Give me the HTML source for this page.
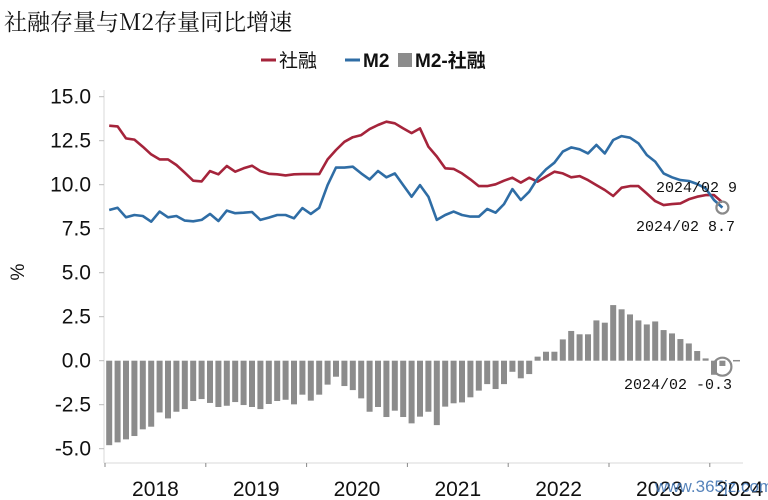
<!DOCTYPE html>
<html><head><meta charset="utf-8">
<style>
html,body{margin:0;padding:0;background:#fff;}
svg{display:block;}
text{font-family:"Liberation Sans","Noto Sans CJK SC",sans-serif;}
.mono{font-family:"Liberation Mono","Noto Sans CJK SC",monospace;}
</style></head>
<body>
<svg id="chart" width="768" height="500" viewBox="0 0 768 500">
  <text x="4" y="30" font-size="23" fill="#111" style="font-family:'Noto Serif CJK SC','Liberation Serif',serif">社融存量与M2存量同比增速</text>
  <g>
    <g>
      <line x1="261" y1="60" x2="276" y2="60" stroke="#a5243b" stroke-width="3"/>
      <text x="279" y="67" font-size="19" fill="#111">社融</text>
    </g>
    <g>
      <line x1="345" y1="60" x2="360" y2="60" stroke="#2f6da5" stroke-width="3"/>
      <text x="363" y="67" font-size="19" fill="#111" font-weight="bold">M2</text>
    </g>
    <g>
      <rect x="398" y="53" width="14" height="14" fill="#8c8c8c"/>
      <text x="415" y="67" font-size="19" fill="#111" font-weight="bold">M2-社融</text>
    </g>
  </g>
  <text transform="translate(24,272) rotate(-90)" font-size="19" fill="#111" text-anchor="middle">%</text>
  <g id="yaxis"></g>
  <g id="xaxis"></g>
  <g id="bars"></g>
  <g id="lines"></g>
  <g id="annot"></g>
  <text x="655" y="492" font-size="17" fill="#3a6fb0" opacity="0.85">www.365jz.com</text>
</svg>
<script>
const yTicks = [-5, -2.5, 0, 2.5, 5, 7.5, 10, 12.5, 15];
const yearLabels = ["2018","2019","2020","2021","2022","2023","2024"];
const tsf = [13.35,13.31,12.63,12.56,12.16,11.72,11.44,11.44,11.12,10.68,10.23,10.19,
 10.77,10.59,11.06,10.74,10.93,11.08,10.77,10.62,10.59,10.53,10.59,10.6,
 10.6,10.6,11.44,11.97,12.44,12.7,12.82,13.16,13.39,13.58,13.49,13.2,
 12.93,13.2,12.16,11.6,10.93,10.9,10.64,10.3,9.92,9.92,10.02,10.23,
 10.4,10.12,10.4,10.17,10.46,10.74,10.64,10.42,10.49,10.26,9.98,9.7,
 9.36,9.83,9.92,9.92,9.5,9.07,8.84,8.9,8.94,9.17,9.32,9.41,
 9.41,9.0];
const m2 = [8.56,8.69,8.15,8.28,8.22,7.9,8.47,8.15,8.22,7.96,7.92,8.0,
 8.34,7.94,8.53,8.38,8.41,8.45,8.0,8.13,8.28,8.28,8.09,8.67,
 8.34,8.69,9.98,10.98,10.97,11.02,10.64,10.3,10.78,10.42,10.64,9.98,
 9.32,9.98,9.32,8.0,8.28,8.47,8.28,8.19,8.19,8.62,8.41,8.9,
 9.75,9.13,9.6,10.36,10.87,11.25,11.88,12.12,12.01,11.78,12.26,11.78,
 12.54,12.76,12.67,12.35,11.69,11.31,10.64,10.42,10.26,10.21,10.04,9.79,
 9.13,8.7];
const spread = [-4.8,-4.64,-4.47,-4.28,-3.9,-3.75,-2.94,-3.28,-2.9,-2.75,-2.29,-2.18,
 -2.4,-2.63,-2.56,-2.35,-2.52,-2.63,-2.75,-2.46,-2.29,-2.22,-2.48,-1.93,
 -2.27,-1.93,-1.36,-0.91,-1.44,-1.67,-2.14,-2.9,-2.63,-3.2,-2.84,-3.2,
 -3.56,-3.18,-2.9,-3.66,-2.61,-2.42,-2.37,-2.08,-1.7,-1.33,-1.61,-1.33,
 -0.63,-1.0,-0.76,0.23,0.51,0.51,1.21,1.69,1.5,1.5,2.29,2.16,
 3.16,2.92,2.63,2.29,2.06,2.23,1.74,1.55,1.23,0.98,0.55,0.13,
 -0.8,-0.3];
const annotLabels = ["2024/02 9","2024/02 8.7","2024/02 -0.3"];

const NS = "http://www.w3.org/2000/svg";
const X0 = 105, MW = 8.4, Y0 = 360.7, PU = 17.6;
function xm(i){ return X0 + (i + 0.5) * MW; }
function yv(v){ return Y0 - v * PU; }
function mk(tag, attrs, parent){
  const e = document.createElementNS(NS, tag);
  for (const k in attrs) e.setAttribute(k, attrs[k]);
  parent.appendChild(e); return e;
}
const yax = document.getElementById('yaxis');
mk('line',{x1:104,y1:90,x2:104,y2:463,stroke:'#d9d9d9','stroke-width':1},yax);
yTicks.forEach(t=>{
  const l = mk('line',{x1:99,y1:yv(t),x2:104,y2:yv(t),stroke:'#bbb','stroke-width':1},yax);
  
  
  const tx = mk('text',{x:91,y:yv(t)+7,'font-size':21,'text-anchor':'end',fill:'#111'},yax);
  tx.textContent = t.toFixed(1);
  
  
});
const xax = document.getElementById('xaxis');
mk('line',{x1:104,y1:463,x2:743,y2:463,stroke:'#d9d9d9','stroke-width':1},xax);
yearLabels.forEach((y,k)=>{
  const tx0 = X0 + k*12*MW;
  mk('line',{x1:tx0,y1:463,x2:tx0,y2:467,stroke:'#888','stroke-width':1},xax);
  const cx = k < 6 ? tx0 + 6*MW : tx0 + 30;
  const tx = mk('text',{x:cx,y:496,'font-size':21,'text-anchor':'middle',fill:'#111'},xax);
  tx.textContent = y;
  
  
});
const bg = document.getElementById('bars');
spread.forEach((v,i)=>{
  const y1 = Math.min(yv(v), Y0), h = Math.abs(yv(v) - Y0);
  const r = mk('rect',{x:xm(i)-3,y:y1,width:6,height:Math.max(h,0.5),fill:'#8c8c8c'},bg);
  
  
});
const lg = document.getElementById('lines');
function path(arr,color,name){
  const d = arr.map((v,i)=>(i?'L':'M')+xm(i).toFixed(1)+','+yv(v).toFixed(1)).join(' ');
  const p = mk('path',{d:d,fill:'none',stroke:color,'stroke-width':2.6,'stroke-linejoin':'round'},lg);
  
  
}
path(tsf,'#a5243b','tsf-line');
path(m2,'#2f6da5','m2-line');
const an = document.getElementById('annot');
const li = tsf.length - 1;
const c1 = mk('circle',{cx:xm(li),cy:yv(m2[li]),r:6,fill:'none',stroke:'#8a8a8a','stroke-width':2.2},an);


const c2 = mk('circle',{cx:xm(li),cy:Y0+6,r:9,fill:'none',stroke:'#8a8a8a','stroke-width':2.2},an);


const a1 = mk('text',{x:737,y:192,'font-size':15,'text-anchor':'end',fill:'#111','class':'mono'},an);
a1.textContent = annotLabels[0];


const a2 = mk('text',{x:735,y:231,'font-size':15,'text-anchor':'end',fill:'#111','class':'mono'},an);
a2.textContent = annotLabels[1];


const a3 = mk('text',{x:732,y:389,'font-size':15,'text-anchor':'end',fill:'#111','class':'mono'},an);
a3.textContent = annotLabels[2];


mk('line',{x1:733,y1:360.7,x2:740,y2:360.7,stroke:'#8c8c8c','stroke-width':1.5},an);
</script>
</body></html>
